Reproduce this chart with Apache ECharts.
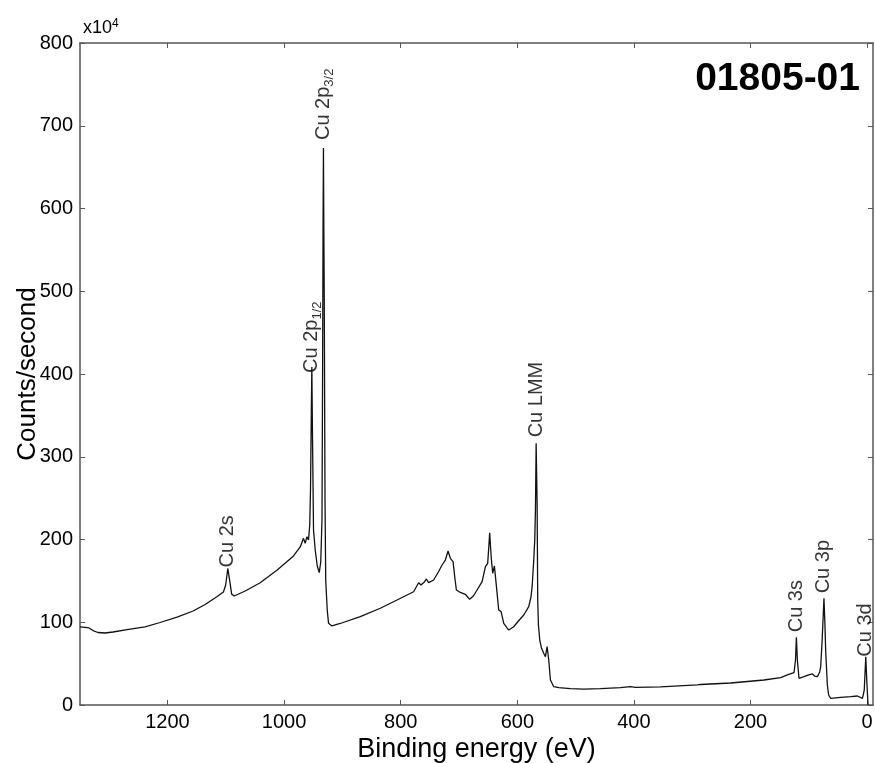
<!DOCTYPE html>
<html>
<head>
<meta charset="utf-8">
<script src="https://cdn.jsdelivr.net/npm/echarts@6/dist/echarts.min.js"></script>
<style>
html,body{margin:0;padding:0;background:#fff;}
#chart{width:875px;height:763px;}
</style>
</head>
<body>
<div id="chart"></div>
<script>
// ---- data (binding energy in eV, counts/second in units of 1e4) ----
const energy = [
  1350,1341.4,1334.5,1327.7,1319.1,1307.1,1293.4,1269.3,1238.4,1212.7,
  1183.5,1156.0,1135.4,1115.3,1104.0,1100.2,1096.5,1093.4,1089.9,1085.6,
  1066.7,1041.0,1011.8,983.8,972.3,966.7,963.8,960.8,958.1,956.0,
  954.7,953.4,952.4,951.2,949.5,946.6,943.1,939.7,937.1,935.0,
  934.0,933.2,932.5,931.8,931.1,929.8,928.6,926.0,923.7,917.9,
  903.7,869.3,835.0,806.3,777.8,769.3,765.1,759.5,756.0,752.1,
  743.5,735.4,729.1,723.4,718.8,714.8,710.2,707.1,704.5,697.7,
  689.1,687.4,681.7,675.4,669.0,660.4,654.7,650.8,648.7,647.4,
  645.8,644.4,642.2,639.3,635.8,631.9,627.8,623.3,614.7,606.2,
  598.1,589.0,580.4,576.6,574.6,571.8,570.1,568.9,567.7,566.7,
  566.0,565.0,563.8,561.5,558.6,554.7,551.8,548.9,547.2,546.1,
  543.2,537.5,528.9,508.8,486.0,457.3,423.0,405.8,397.3,354.4,
  291.3,285.6,234.1,177.0,148.3,136.8,125.5,122.9,121.4,119.7,
  116.9,108.3,100.3,93.9,90.0,85.4,81.4,79.7,77.2,74.1,
  72.4,71.2,68.3,66.0,62.5,45.4,28.2,16.7,8.1,5.0,
  2.4,0.7,-1.5
];
const counts = [
  94.3,93.7,93.1,90.0,87.6,87.0,88.2,91.2,94.3,99.7,
  106.3,113.6,121.5,130.9,136.6,145,165,151,134,131.7,
  137.8,147.8,163.1,180.1,191,201.4,195.4,203.4,199.4,217.5,
  259.8,344.4,408.5,320.2,211.5,187.3,168,159.9,172.8,223.6,
  392.8,570.4,673.1,574,489.4,247.7,151.1,114.8,98.7,95.5,
  98.5,106.7,116.9,126.9,136.9,147.8,145,148.6,152.3,147.8,
  151.1,160.7,169.2,175.2,186.1,177.3,173.2,153.5,139,136,
  133.8,135,127.7,131.7,139,149,167.1,171.2,193.4,208.2,
  189.7,175.2,159.2,168,143,114.8,112.8,98.7,90.6,94.6,
  101.5,108.8,118.8,130.5,143,175.2,199.4,235.6,316.2,271.9,
  239.6,126.9,96.7,78.5,68.9,62.5,58.4,70.5,72.5,54.4,
  30.2,22.1,20.9,19.7,19.3,19.7,20.9,22.1,21.4,22,
  24.2,24.8,26.6,30.2,33.2,36.3,39,54.4,81.8,54.4,
  32.3,34.2,36.3,37.5,35,34.2,39.9,46.3,78.6,128.9,
  96.7,66.5,24.2,12.1,8.1,9.1,10,10.9,8.1,18.1,
  58.4,30.2,0
];
const peakNames = ['Cu 2s','Cu 2p{sub|1/2}','Cu 2p{sub|3/2}','Cu LMM','Cu 3s','Cu 3p','Cu 3d'];
const peakEnergy = [1096.5, 952.4, 932.5, 567.7, 121.4, 74.1, 2.4];
const peakCounts = [165, 408.5, 673.1, 316.2, 81.8, 128.9, 58.4];
const xTicks = [0, 200, 400, 600, 800, 1000, 1200];
const sampleId = '01805-01';

// ---- styling ----
const FONT = 'Liberation Sans, Arial, Helvetica, sans-serif';
const AXIS_COLOR = '#555';
const labelTweak = [
  {dx: -2, gap: 3},
  {dx: -8, gap: 2},
  {dx: 0, gap: 8},
  {dx: 0, gap: 6},
  {dx: 0, gap: 5},
  {dx: 0, gap: 5},
  {dx: -5, gap: 5}
];

const lineData = energy.map((e, i) => [e, counts[i]]);
const peakData = peakNames.map((n, i) => ({
  name: n,
  value: [peakEnergy[i], peakCounts[i]],
  label: {distance: labelTweak[i].gap, offset: [labelTweak[i].dx, 0]}
}));

const baseX = {
  type: 'value', inverse: true, min: -10, max: 1350,
  splitLine: {show: false},
  axisLine: {show: true, onZero: false, lineStyle: {color: AXIS_COLOR, width: 1.5}},
  axisTick: {show: true, inside: true, length: 5, customValues: xTicks, lineStyle: {color: AXIS_COLOR, width: 1}},
  axisLabel: {show: true, customValues: xTicks, formatter: v => String(v), fontSize: 20, color: '#000', fontFamily: FONT, margin: 7}
};
const baseY = {
  type: 'value', min: 0, max: 800, interval: 100,
  splitLine: {show: false},
  axisLine: {show: true, onZero: false, lineStyle: {color: AXIS_COLOR, width: 1.5}},
  axisTick: {show: true, inside: true, length: 5, lineStyle: {color: AXIS_COLOR, width: 1}},
  axisLabel: {show: true, formatter: v => String(v), fontSize: 20, color: '#000', fontFamily: FONT, margin: 7}
};

const chart = echarts.init(document.getElementById('chart'), null, {renderer: 'canvas'});
chart.setOption({
  animation: false,
  backgroundColor: '#fff',
  textStyle: {fontFamily: FONT},
  title: [
    {text: sampleId, right: 10, top: 55,
     textStyle: {fontSize: 39, fontWeight: 'bold', color: '#000', fontFamily: FONT}},
    {text: 'x10{sup|4}', left: 78, top: 13,
     textStyle: {fontSize: 18, fontWeight: 'normal', color: '#000', fontFamily: FONT, lineHeight: 21,
       rich: {sup: {fontSize: 12, fontWeight: 'normal', color: '#000', fontFamily: FONT, verticalAlign: 'top', lineHeight: 12}}}}
  ],
  grid: {left: 80, right: 2, top: 43, bottom: 58, containLabel: false, outerBoundsMode: 'none'},
  xAxis: [
    Object.assign({}, baseX, {position: 'bottom', name: 'Binding energy (eV)', nameLocation: 'middle', nameGap: 31,
      nameMoveOverlap: false, nameTextStyle: {fontSize: 27, color: '#000', fontFamily: FONT}}),
    Object.assign({}, baseX, {position: 'top', axisLabel: {show: false}})
  ],
  yAxis: [
    Object.assign({}, baseY, {position: 'left', name: 'Counts/second', nameLocation: 'middle', nameGap: 39,
      nameMoveOverlap: false, nameTextStyle: {fontSize: 26, color: '#000', fontFamily: FONT}}),
    Object.assign({}, baseY, {position: 'right', axisLabel: {show: false}})
  ],
  series: [
    {type: 'line', xAxisIndex: 0, yAxisIndex: 0, data: lineData, showSymbol: false, symbol: 'none',
     lineStyle: {color: '#111', width: 1.3}, silent: true},
    {type: 'scatter', xAxisIndex: 0, yAxisIndex: 0, data: peakData, symbolSize: 0, silent: true,
     label: {show: true, position: 'top', rotate: 90, align: 'left', verticalAlign: 'middle',
       formatter: p => p.name, fontSize: 20, color: '#000', fontFamily: FONT, lineHeight: 25,
       rich: {sub: {fontSize: 13, color: '#000', fontFamily: FONT, verticalAlign: 'bottom', lineHeight: 12}}}}
  ]
});
</script>
</body>
</html>
